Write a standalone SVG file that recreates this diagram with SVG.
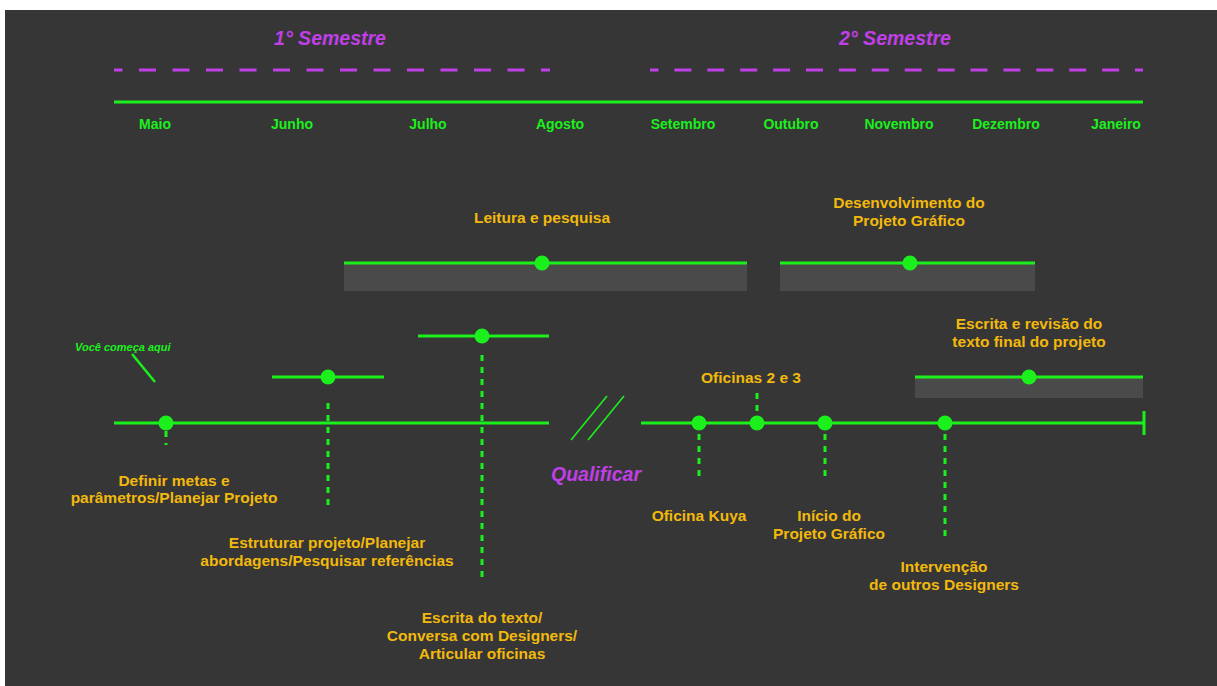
<svg xmlns="http://www.w3.org/2000/svg" width="1217" height="686" viewBox="0 0 1217 686">
<style>
.lbl{font-family:"Liberation Sans",Arial,sans-serif;font-weight:bold;font-size:15.5px;fill:#f2b90c;text-anchor:middle}
.mon{font-family:"Liberation Sans",Arial,sans-serif;font-weight:bold;font-size:14px;fill:#1cf01c;text-anchor:middle}
.sem{font-family:"Liberation Sans",Arial,sans-serif;font-weight:bold;font-style:italic;font-size:19.5px;fill:#c03fe6;text-anchor:middle}
.g{stroke:#1cf01c;stroke-width:3;fill:none}
.d{stroke:#1cf01c;stroke-width:3;stroke-dasharray:6 6;fill:none}
.dot{fill:#1cf01c}
.bar{fill:#4a4a4a}
.pd{stroke:#c03fe6;stroke-width:3;fill:none}
</style>
<rect x="0" y="0" width="1217" height="686" fill="#ffffff"/>
<rect x="5" y="10" width="1212" height="676" fill="#363636"/>

<g id="header">
<text class="sem" x="330" y="45">1° Semestre</text>
<text class="sem" x="895" y="45">2° Semestre</text>
<line class="pd" x1="114" y1="70" x2="550" y2="70" stroke-dasharray="17 16.5" stroke-dashoffset="8.5"/>
<line class="pd" x1="650" y1="70" x2="1143" y2="70" stroke-dasharray="17 15.9" stroke-dashoffset="8.5"/>
<line class="g" x1="114" y1="102" x2="1143" y2="102"/>
<text class="mon" x="155" y="129">Maio</text>
<text class="mon" x="292" y="129">Junho</text>
<text class="mon" x="428" y="129">Julho</text>
<text class="mon" x="560" y="129">Agosto</text>
<text class="mon" x="683" y="129">Setembro</text>
<text class="mon" x="791" y="129">Outubro</text>
<text class="mon" x="899" y="129">Novembro</text>
<text class="mon" x="1006" y="129">Dezembro</text>
<text class="mon" x="1116" y="129">Janeiro</text>
</g>

<g id="connectors">
<line class="g" x1="114" y1="423" x2="549" y2="423"/>
<line class="g" x1="641" y1="423" x2="1144" y2="423"/>
<line class="g" x1="1144" y1="411" x2="1144" y2="435"/>
<line stroke="#1cf01c" stroke-width="1.6" x1="571" y1="440" x2="607" y2="396"/>
<line stroke="#1cf01c" stroke-width="1.6" x1="588" y1="440" x2="624" y2="396"/>
<line stroke="#1cf01c" stroke-width="2.5" x1="132" y1="354" x2="155" y2="382"/>
<line class="d" x1="166" y1="431" x2="166" y2="445" stroke-dasharray="5 6"/>
<line class="d" x1="328" y1="403" x2="328" y2="505"/>
<line class="d" x1="482" y1="355" x2="482" y2="579"/>
<line class="d" x1="699" y1="434" x2="699" y2="480"/>
<line class="d" x1="757" y1="393" x2="757" y2="412"/>
<line class="d" x1="825" y1="434" x2="825" y2="480"/>
<line class="d" x1="945" y1="434" x2="945" y2="541"/>
</g>

<g id="start-note">
<text x="75" y="351" font-family="Liberation Sans,Arial,sans-serif" font-weight="bold" font-style="italic" font-size="11" fill="#1cf01c">Você começa aqui</text>
</g>

<g id="node-definir">
<circle class="dot" cx="166" cy="423" r="7.5"/>
<text class="lbl" x="174" y="486">Definir metas e</text>
<text class="lbl" x="174" y="503">parâmetros/Planejar Projeto</text>
</g>

<g id="node-estruturar">
<line class="g" x1="272" y1="377" x2="384" y2="377"/>
<circle class="dot" cx="328" cy="377" r="7.5"/>
<text class="lbl" x="327" y="548">Estruturar projeto/Planejar</text>
<text class="lbl" x="327" y="566">abordagens/Pesquisar referências</text>
</g>

<g id="node-escrita">
<line class="g" x1="418" y1="336" x2="549" y2="336"/>
<circle class="dot" cx="482" cy="336" r="7.5"/>
<text class="lbl" x="482" y="623">Escrita do texto/</text>
<text class="lbl" x="482" y="641">Conversa com Designers/</text>
<text class="lbl" x="482" y="659">Articular oficinas</text>
</g>

<g id="node-leitura">
<rect class="bar" x="344" y="263" width="403" height="28"/>
<line class="g" x1="344" y1="263" x2="747" y2="263"/>
<circle class="dot" cx="542" cy="263" r="7.5"/>
<text class="lbl" x="542" y="223">Leitura e pesquisa</text>
</g>

<g id="node-desenvolvimento">
<rect class="bar" x="780" y="263" width="255" height="28"/>
<line class="g" x1="780" y1="263" x2="1035" y2="263"/>
<circle class="dot" cx="910" cy="263" r="7.5"/>
<text class="lbl" x="909" y="208">Desenvolvimento do</text>
<text class="lbl" x="909" y="226">Projeto Gráfico</text>
</g>

<g id="node-qualificar">
<text class="sem" x="596" y="481" font-size="20.5">Qualificar</text>
</g>

<g id="node-kuya">
<circle class="dot" cx="699" cy="423" r="7.5"/>
<text class="lbl" x="699" y="521">Oficina Kuya</text>
</g>

<g id="node-oficinas">
<circle class="dot" cx="757" cy="423" r="7.5"/>
<text class="lbl" x="751" y="383">Oficinas 2 e 3</text>
</g>

<g id="node-inicio">
<circle class="dot" cx="825" cy="423" r="7.5"/>
<text class="lbl" x="829" y="521">Início do</text>
<text class="lbl" x="829" y="539">Projeto Gráfico</text>
</g>

<g id="node-intervencao">
<circle class="dot" cx="945" cy="423" r="7.5"/>
<text class="lbl" x="944" y="572">Intervenção</text>
<text class="lbl" x="944" y="590">de outros Designers</text>
</g>

<g id="node-revisao">
<rect class="bar" x="915" y="377" width="228" height="21"/>
<line class="g" x1="915" y1="377" x2="1143" y2="377"/>
<circle class="dot" cx="1029" cy="377" r="7.5"/>
<text class="lbl" x="1029" y="329">Escrita e revisão do</text>
<text class="lbl" x="1029" y="347">texto final do projeto</text>
</g>
</svg>
